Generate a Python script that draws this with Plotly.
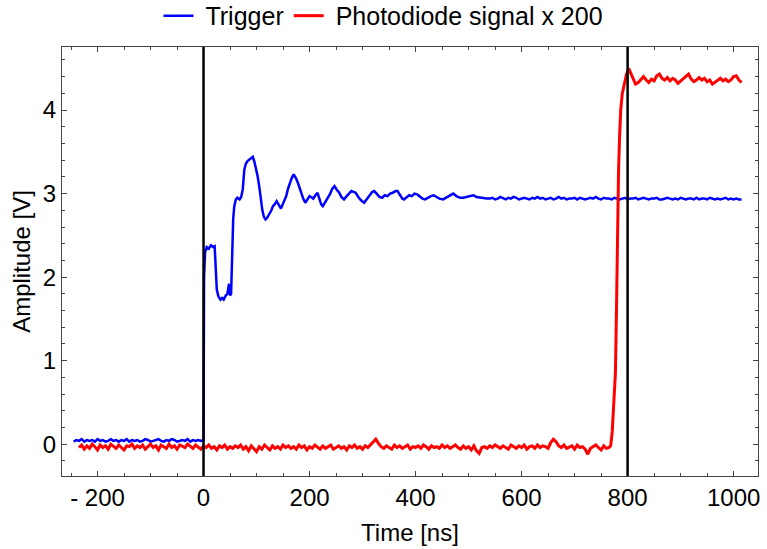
import numpy as np
import plotly.graph_objects as go

# ---------------- data ----------------
# Trigger: pre-trigger baseline, sampled every 5 ns from -245 ns (hundredths of V)
trig_base_start = -245
trig_base_vals = [3, 5, 4, 6, 3, 5, 4, 5, 3, 6, 4, 5, 3, 4, 6, 4, 5, 3, 5, 4,
                  6, 3, 5, 4, 5, 3, 4, 6, 5, 3, 4, 5, 6, 4, 3, 5, 4, 6, 5, 3,
                  4, 5, 4, 6, 3, 5, 4, 5, 4]
# Trigger: edge and ringing (ns, V)
trig_ring_t = [0, 1, 3, 6, 10, 14, 18, 21, 23, 25, 28, 32, 35, 38, 42, 45, 48, 50, 52, 54,
               56, 58, 61, 64, 68, 71, 74, 77, 80, 83, 87, 90, 93, 96, 99, 102, 105, 108, 111, 114,
               117, 120, 124, 128, 131, 134, 138, 142, 146, 150, 153, 156, 159, 162, 166, 170, 174, 178, 181, 184,
               188, 192, 196, 200, 203, 207, 211, 215, 219, 222, 225, 229, 234, 239, 243, 247, 251, 256, 260, 265,
               270, 275, 279, 283, 287, 292, 297, 303, 308, 313, 318, 322, 327, 332, 337, 342, 347, 352, 357, 362,
               366, 371, 375, 378, 383, 388, 393, 398, 403, 408, 413, 418, 423, 429, 434, 439, 445, 452, 458, 464,
               471, 477, 484, 490, 496, 503, 509, 515, 522, 528, 534]
trig_ring_v = [0.05, 2.00, 2.30, 2.36, 2.34, 2.38, 2.36, 2.37, 2.10, 1.85, 1.77, 1.73, 1.75, 1.73, 1.78, 1.80, 1.92, 1.78, 1.80, 2.30,
               2.70, 2.85, 2.93, 2.95, 2.93, 2.96, 3.05, 3.29, 3.36, 3.39, 3.41, 3.43, 3.44, 3.38, 3.30, 3.21, 3.09, 2.93, 2.80, 2.72,
               2.69, 2.71, 2.75, 2.80, 2.85, 2.87, 2.91, 2.86, 2.82, 2.88, 2.93, 2.97, 3.05, 3.11, 3.18, 3.23, 3.19, 3.13, 3.07, 3.01,
               2.94, 2.89, 2.93, 2.97, 2.96, 2.94, 2.98, 3.01, 2.93, 2.87, 2.85, 2.89, 2.94, 3.00, 3.06, 3.09, 3.05, 3.01, 2.96, 2.93,
               2.97, 3.01, 3.03, 3.02, 3.01, 2.96, 2.92, 2.89, 2.93, 2.98, 3.02, 3.03, 2.99, 2.96, 2.95, 2.98, 2.97, 3.00, 3.01, 3.03,
               3.03, 2.98, 2.94, 2.93, 2.96, 2.98, 2.97, 3.00, 2.99, 2.96, 2.94, 2.93, 2.95, 2.97, 2.98, 2.96, 2.94, 2.93, 2.95, 2.97,
               3.00, 2.97, 2.95, 2.95, 2.96, 2.97, 2.98, 2.96, 2.95, 2.94, 2.94]
# Trigger: settled level, every 5 ns from 540 ns (V = 2.9 + hundredths)
trig_tail_start = 540
trig_tail_vals = [4, 5, 3, 4, 6, 4, 3, 5, 4, 6, 5, 3, 4, 5, 4, 3, 5, 4, 6, 4,
                  5, 3, 4, 5, 3, 4, 6, 4, 5, 3, 4, 4, 5, 3, 5, 4, 3, 4, 5, 4,
                  6, 4, 3, 5, 4, 4, 3, 5, 4, 3, 4, 5, 3, 4, 4, 5, 3, 4, 5, 4,
                  3, 4, 4, 5, 3, 3, 4, 5, 4, 3, 4, 3, 5, 4, 3, 4, 4, 3, 5, 3,
                  4, 4, 3, 5, 4, 3, 4, 3, 4, 5, 3, 4, 3, 4, 3, 3]

# Photodiode x 200: baseline every 5 ns from -235 ns (hundredths of V)
pd_base_start = -235
pd_base_vals = [-4, -1, -6, -2, -5, 0, -3, -7, -1, -4, -2, -6, 0, -3, -5, -1, -4, -7, -2, -3,
                0, -5, -2, -4, -1, -6, -3, 0, -4, -2, -7, -1, -3, -5, 0, -4, -2, -6, -1, -3,
                -4, 0, -2, -5, -1, -3, -6, -2, -4, -1, -5, -3, -7, -2, -4, -1, -6, -3, -5, -2,
                -4, -1, -6, -3, -8, -2, -5, -9, -3, -6, -1, -4, -7, -2, -5, -3, -6, -1, -4, -2,
                -5, -3, -6, -1, -4, -2, -7, -3, -5, -1, -4, -6, -2, -5, -3, -1, -6, -4, -2, -5,
                -3, -7, -2, -4, -1, -5, -3, -6, -2, -4, -1, 3, 6, 1, -3, -5, -2, -4, -6, -1,
                -4, -2, -5, -3, -1, -6, -3, -4, -2, -5, -1, -3, -6, -2, -4, -3, -5, -1, -4, -2,
                -5, -3, -1, -4, -6, -2, -5, -3, -7, -2, -8, -11, -4, -3, -5, -2, -4, -1, -3, -5,
                -2, -4, -6, -1, -3, -5, -2, -4, -1, -6, -3, -2, -5, -1, -4, -2, -3, -5, 2, 6,
                3, -2, -4, -1, -5, -3, -2, -6, -1, -4, -3, -6, -12, -5, -3, -1, -4, -7, -2, -5, -4]
# Photodiode x 200: rising edge (ns, V)
pd_edge_t = [768, 771, 774, 777, 779, 781, 783, 785, 787, 790, 794, 798, 802, 806, 810]
pd_edge_v = [-0.02, 0.15, 0.55, 0.85, 1.60, 2.60, 3.30, 3.70, 4.00, 4.20, 4.32, 4.43, 4.50, 4.44, 4.38]
# Photodiode x 200: plateau every 5 ns from 815 ns (V)
pd_top_start = 815
pd_top_vals = [4.31, 4.33, 4.37, 4.40, 4.36, 4.33, 4.37, 4.35, 4.41, 4.43, 4.38, 4.36, 4.39, 4.35, 4.38,
               4.36, 4.32, 4.35, 4.38, 4.40, 4.43, 4.37, 4.34, 4.36, 4.39, 4.36, 4.38, 4.34, 4.36, 4.31,
               4.33, 4.36, 4.38, 4.35, 4.37, 4.34, 4.36, 4.40, 4.41, 4.36, 4.33]

marker_times = [0, 800]
x_tickvals = [-200, 0, 200, 400, 600, 800, 1000]
x_ticktext = ["- 200", "0", "200", "400", "600", "800", "1000"]
y_tickvals = [0, 1, 2, 3, 4]
series_names = ["Trigger", "Photodiode signal x 200"]

# ---------------- assemble series ----------------
step = 5
trig_t = ([trig_base_start + step * i for i in range(len(trig_base_vals))] + trig_ring_t
          + [trig_tail_start + step * i for i in range(len(trig_tail_vals))])
trig_v = ([v / 100 for v in trig_base_vals] + trig_ring_v
          + [2.9 + v / 100 for v in trig_tail_vals])
pd_t = ([pd_base_start + step * i for i in range(len(pd_base_vals))] + pd_edge_t
        + [pd_top_start + step * i for i in range(len(pd_top_vals))])
pd_v = [v / 100 for v in pd_base_vals] + pd_edge_v + pd_top_vals

FONT = "Liberation Sans, Arial, Helvetica, sans-serif"
FRAME = "#444444"

fig = go.Figure()
fig.add_trace(go.Scatter(x=trig_t, y=trig_v, mode="lines", name="\u00a0" + series_names[0],
                         line=dict(color="#0000ff", width=2.5)))
fig.add_trace(go.Scatter(x=pd_t, y=pd_v, mode="lines", name="\u00a0" + series_names[1],
                         line=dict(color="#ff0000", width=3)))

for t in marker_times:
    fig.add_shape(type="line", xref="x", yref="paper", x0=t, x1=t, y0=0, y1=1,
                  line=dict(color="black", width=2.5), layer="above")

axis_common = dict(showgrid=False, zeroline=False, showline=True, linecolor=FRAME, linewidth=1,
                   mirror="allticks", ticks="inside", ticklen=5, tickwidth=1, tickcolor=FRAME,
                   tickfont=dict(family=FONT, size=24, color="black"))

fig.update_xaxes(range=[-267, 1046], tickvals=x_tickvals, ticktext=x_ticktext,
                 minor=dict(ticks="inside", dtick=50, tick0=0, ticklen=3, tickcolor=FRAME),
                 title=dict(text="Time [ns]", font=dict(family=FONT, size=24, color="black"), standoff=14),
                 **axis_common)
fig.update_yaxes(range=[-0.381, 4.755], tickvals=y_tickvals,
                 minor=dict(ticks="inside", dtick=0.2, tick0=0, ticklen=3, tickcolor=FRAME),
                 title=dict(text="Amplitude [V]", font=dict(family=FONT, size=24, color="black"), standoff=5),
                 **axis_common)

fig.update_layout(
    width=767, height=549,
    margin=dict(l=62, r=7, t=47, b=71),
    paper_bgcolor="white", plot_bgcolor="white",
    font=dict(family=FONT, size=24, color="black"),
    showlegend=True,
    legend=dict(orientation="h", xref="container", yref="container", x=0.5, y=0.971,
                xanchor="center", yanchor="middle", font=dict(family=FONT, size=25, color="black"),
                bgcolor="rgba(0,0,0,0)", itemwidth=30, tracegroupgap=0),
)

fig.write_html("out.html")
